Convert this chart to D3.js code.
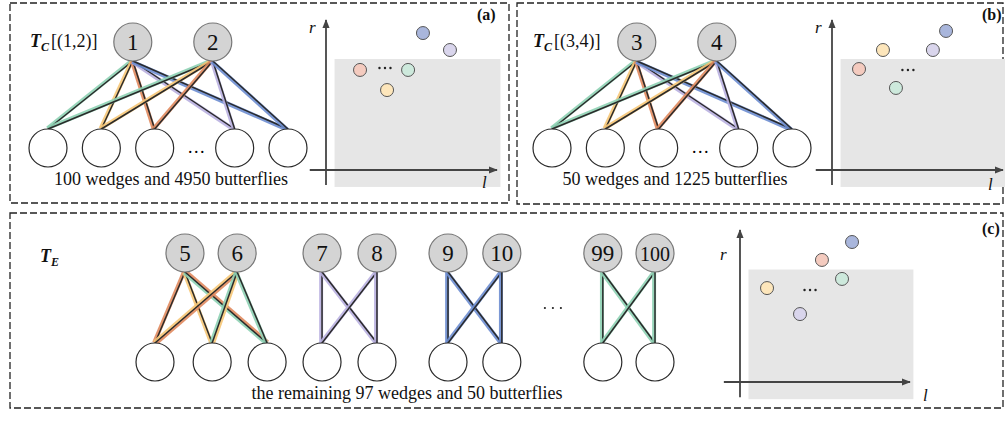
<!DOCTYPE html>
<html><head><meta charset="utf-8">
<script src="https://cdn.jsdelivr.net/npm/d3@7"></script>
<style>body{margin:0;background:#fff}svg{display:block}</style>
</head><body><svg id="c" width="1005" height="423"></svg>
<script>
// ---------- data ----------
const colorNames = ["red","yellow","green","purple","blue"];
const haloColors = {red:"#e0895e",yellow:"#f6c777",green:"#8ed2b4",purple:"#b9b0e0",blue:"#6d8dd0"};
const pointFills = {red:"#f4cbbf",yellow:"#fde6bb",green:"#cde9dc",purple:"#d9d5ec",blue:"#a9b6dc"};

// panel (a) / (b) bipartite graphs (slot units)
const topLabelsA = ["1","2"];
const topLabelsB = ["3","4"];
const topSlotsAB = [1.59, 3.09];
const bottomSlotsAB = [0, 1, 2, 3.5, 4.5];
const bottomColorsAB = ["green","yellow","red","purple","blue"];
const ellipsisSlotAB = 2.78;
const captionA = "100 wedges and 4950 butterflies";
const captionB = "50 wedges and 1225 butterflies";

// scatter points (l, r in % of axis length)
const scatterA_l = [19.9, 35.7, 48, 72.5, 56.7];
const scatterA_r = [66.7, 53.3, 66.7, 80, 91.3];
const scatterA_c = ["red","yellow","green","purple","blue"];
const scatterA_dots = [34.5, 68];
const scatterB_l = [15.8, 29.8, 37.4, 59, 66.7];
const scatterB_r = [67.3, 80, 54.7, 80, 92.7];
const scatterB_c = ["red","yellow","green","purple","blue"];
const scatterB_dots = [44.4, 66.7];
const scatterC_l = [15.9, 35.3, 48.2, 60, 65.9];
const scatterC_r = [61.8, 44.7, 80.3, 67.8, 92.1];
const scatterC_c = ["yellow","purple","red","green","blue"];
const scatterC_dots = [41.2, 60.5];
const greyRegion = {l0: 5, l1: 102, r0: -11.3, r1: 74};

// panel (c) groups (slot units)
const groupC = [
  {tops:["5","6"], topSlots:[0.54,1.48], bottomSlots:[0,1.03,2.02],
   edges:[[0,0,["red"]],[0,1,["yellow"]],[0,2,["red","green"]],[1,0,["red","yellow"]],[1,1,["yellow","green"]],[1,2,["green"]]]},
  {tops:["7","8"], topSlots:[3.01,4.0], bottomSlots:[3.01,4.0],
   edges:[[0,0,["purple"]],[0,1,["purple"]],[1,0,["purple"]],[1,1,["purple"]]]},
  {tops:["9","10"], topSlots:[5.28,6.25], bottomSlots:[5.28,6.25],
   edges:[[0,0,["blue"]],[0,1,["blue"]],[1,0,["blue"]],[1,1,["blue"]]]},
  {tops:["99","100"], topSlots:[8.07,9.01], bottomSlots:[8.07,9.01],
   edges:[[0,0,["green"]],[0,1,["green"]],[1,0,["green"]],[1,1,["green"]]]}
];
const ellipsisSlotC = 7.17;
const captionC = "the remaining 97 wedges and 50 butterflies";

// ---------- drawing ----------
const svg = d3.select("#c");
const serif = "'Liberation Serif','Times New Roman',serif";
const R = 19;

svg.append("defs").append("marker").attr("id","arr").attr("viewBox","0 0 10 10")
  .attr("refX",9).attr("refY",5).attr("markerWidth",5).attr("markerHeight",5)
  .attr("orient","auto").append("path").attr("d","M0,1 L10,5 L0,9 Z").attr("fill","#444");

function box(x0,y0,x1,y1){
  svg.append("rect").attr("x",x0).attr("y",y0).attr("width",x1-x0).attr("height",y1-y0)
    .attr("fill","none").attr("stroke","#222").attr("stroke-width",1.3).attr("stroke-dasharray","7,3");
}
box(10,3,509,203);
box(517,3,1003,204);
box(10,213,1003,408);

function edge(g,x1,y1,x2,y2,colors){
  const dx=x2-x1, dy=y2-y1, len=Math.hypot(dx,dy), nx=-dy/len, ny=dx/len;
  const offs = colors.length===1 ? [0.9] : [-1.4,1.4];
  colors.forEach((c,i)=>{
    const o=offs[i];
    g.append("line").attr("x1",x1+nx*o).attr("y1",y1+ny*o).attr("x2",x2+nx*o).attr("y2",y2+ny*o)
      .attr("stroke",haloColors[c]).attr("stroke-width",colors.length===1?4:3).attr("stroke-opacity",0.9);
  });
  g.append("line").attr("x1",x1).attr("y1",y1).attr("x2",x2).attr("y2",y2)
    .attr("stroke","#2a2a2a").attr("stroke-width",1.5);
}
function topNode(g,x,y,label){
  g.append("circle").attr("cx",x).attr("cy",y).attr("r",R).attr("fill","#d4d4d4").attr("stroke","#777").attr("stroke-width",1.2);
  g.append("text").attr("x",x).attr("y",y+8).attr("text-anchor","middle")
    .attr("font-family",serif).attr("font-size",label.length>2?20:23).attr("fill","#111").text(label);
}
function botNode(g,x,y){
  g.append("circle").attr("cx",x).attr("cy",y).attr("r",R).attr("fill","#fff").attr("stroke","#2a2a2a").attr("stroke-width",1.2);
}
function tLabel(x,y,sub,rest){
  const t=svg.append("text").attr("x",x).attr("y",y).attr("font-family",serif).attr("font-size",18).attr("fill","#111");
  t.append("tspan").attr("font-weight","bold").attr("font-style","italic").text("T");
  t.append("tspan").attr("font-weight","bold").attr("font-style","italic").attr("font-size",12).attr("dy",4).text(sub);
  if(rest) t.append("tspan").attr("dy",-4).attr("dx",2).text(rest);
}

function bipartite(offset, labels, caption){
  const g=svg.append("g");
  const xs=d3.scaleLinear().domain([0,4.5]).range([48+offset,288+offset]);
  const yTop=42, yBot=148;
  labels.forEach((lab,i)=>{
    bottomSlotsAB.forEach((b,j)=>edge(g,xs(topSlotsAB[i]),yTop+R,xs(b),yBot-R,[bottomColorsAB[j]]));
  });
  labels.forEach((lab,i)=>topNode(g,xs(topSlotsAB[i]),yTop,lab));
  bottomSlotsAB.forEach(b=>botNode(g,xs(b),yBot));
  g.append("text").attr("x",xs(ellipsisSlotAB)).attr("y",yBot+5).attr("text-anchor","middle")
    .attr("font-family",serif).attr("font-size",18).text("…");
  g.append("text").attr("x",171+offset).attr("y",185).attr("text-anchor","middle")
    .attr("font-family",serif).attr("font-size",18).attr("fill","#111").text(caption);
}
bipartite(0, topLabelsA, captionA);
bipartite(504, topLabelsB, captionB);
tLabel(30,47,"C","[(1,2)]");
tLabel(533,47,"C","[(3,4)]");
tLabel(40,262,"E",null);

function scatter(xr, yr, L, Rv, C, dots, tag, tagPos, lPos, rPos){
  const g=svg.append("g");
  const x=d3.scaleLinear().domain([0,100]).range(xr);
  const y=d3.scaleLinear().domain([0,100]).range(yr);
  g.append("rect").attr("x",x(greyRegion.l0)).attr("y",y(greyRegion.r1))
    .attr("width",Math.min(x(greyRegion.l1),1005)-x(greyRegion.l0)).attr("height",y(greyRegion.r0)-y(greyRegion.r1))
    .attr("fill","#e6e6e6");
  g.append("line").attr("x1",x(-9.5)).attr("y1",y(0)).attr("x2",x(100)).attr("y2",y(0))
    .attr("stroke","#444").attr("stroke-width",1.8).attr("marker-end","url(#arr)");
  g.append("line").attr("x1",x(0)).attr("y1",y(-10)).attr("x2",x(0)).attr("y2",y(100))
    .attr("stroke","#444").attr("stroke-width",1.8).attr("marker-end","url(#arr)");
  L.forEach((l,i)=>g.append("circle").attr("cx",x(l)).attr("cy",y(Rv[i])).attr("r",6.5)
    .attr("fill",pointFills[C[i]]).attr("stroke","#555").attr("stroke-width",1));
  [-1,0,1].forEach(k=>g.append("circle").attr("cx",x(dots[0])+k*5.5).attr("cy",y(dots[1])).attr("r",1.2).attr("fill","#222"));
  svg.append("text").attr("x",rPos[0]).attr("y",rPos[1]).attr("font-family",serif).attr("font-style","italic")
    .attr("font-size",17).attr("fill","#111").text("r");
  svg.append("text").attr("x",lPos[0]).attr("y",lPos[1]).attr("font-family",serif).attr("font-style","italic")
    .attr("font-size",17).attr("fill","#111").text("l");
  svg.append("text").attr("x",tagPos[0]).attr("y",tagPos[1]).attr("font-family",serif).attr("font-weight","bold")
    .attr("font-size",16).attr("fill","#111").text(tag);
}
scatter([326,497],[170,20],scatterA_l,scatterA_r,scatterA_c,scatterA_dots,"(a)",[477,20],[482,188],[309,33]);
scatter([832,1003],[170,20],scatterB_l,scatterB_r,scatterB_c,scatterB_dots,"(b)",[982,20],[988,190],[815,33]);
scatter([740,910],[382,230],scatterC_l,scatterC_r,scatterC_c,scatterC_dots,"(c)",[982,234],[923,401],[720,260]);

// panel (c) graphs
const xc=d3.scaleLinear().domain([0,9.01]).range([155,655]);
const gc=svg.append("g");
const yTopC=253, yBotC=362;
groupC.forEach(grp=>{
  grp.edges.forEach(([t,b,cols])=>edge(gc,xc(grp.topSlots[t]),yTopC+R,xc(grp.bottomSlots[b]),yBotC-R,cols));
});
groupC.forEach(grp=>{
  grp.tops.forEach((lab,i)=>topNode(gc,xc(grp.topSlots[i]),yTopC,lab));
  grp.bottomSlots.forEach(b=>botNode(gc,xc(b),yBotC));
});
[-1,0,1].forEach(k=>gc.append("circle").attr("cx",xc(ellipsisSlotC)+k*8).attr("cy",308).attr("r",1.1).attr("fill","#222"));
gc.append("text").attr("x",407).attr("y",399).attr("text-anchor","middle")
  .attr("font-family",serif).attr("font-size",18).attr("fill","#111").text(captionC);
</script></body></html>
